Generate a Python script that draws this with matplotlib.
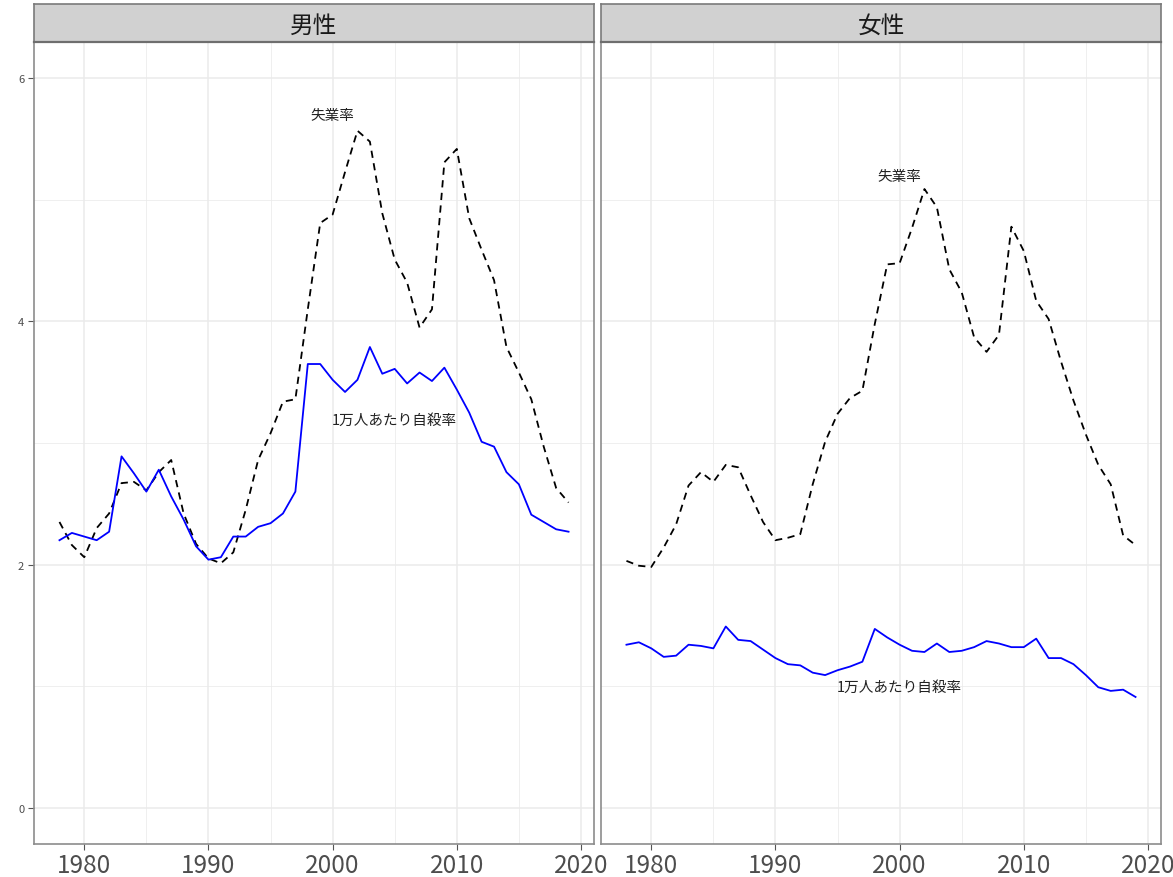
import matplotlib
matplotlib.use('Agg')
import matplotlib.pyplot as plt
from matplotlib.ticker import FixedLocator

plt.rcParams['font.family'] = ['Noto Sans CJK JP', 'DejaVu Sans']

years = list(range(1978, 2020))

male_unemp = [2.35, 2.16, 2.06, 2.30, 2.42, 2.67, 2.68, 2.61, 2.76, 2.86,
              2.42, 2.17, 2.05, 2.01, 2.10, 2.45, 2.86, 3.08, 3.34, 3.36,
              4.10, 4.81, 4.88, 5.23, 5.57, 5.48, 4.89, 4.51, 4.32, 3.95,
              4.10, 5.31, 5.42, 4.85, 4.59, 4.34, 3.79, 3.58, 3.36, 2.97,
              2.63, 2.51]
male_suicide = [2.20, 2.26, 2.23, 2.20, 2.27, 2.89, 2.75, 2.60, 2.78, 2.56,
                2.37, 2.15, 2.04, 2.06, 2.23, 2.23, 2.31, 2.34, 2.42, 2.60,
                3.65, 3.65, 3.52, 3.42, 3.52, 3.79, 3.57, 3.61, 3.49, 3.58,
                3.51, 3.62, 3.44, 3.25, 3.01, 2.97, 2.76, 2.66, 2.41, 2.35,
                2.29, 2.27]
female_unemp = [2.03, 1.99, 1.98, 2.14, 2.33, 2.65, 2.76, 2.68, 2.82, 2.80,
                2.57, 2.35, 2.20, 2.22, 2.25, 2.66, 3.01, 3.24, 3.37, 3.43,
                3.98, 4.47, 4.48, 4.77, 5.09, 4.94, 4.43, 4.24, 3.87, 3.75,
                3.89, 4.78, 4.58, 4.17, 4.02, 3.67, 3.35, 3.07, 2.82, 2.66,
                2.24, 2.16]
female_suicide = [1.34, 1.36, 1.31, 1.24, 1.25, 1.34, 1.33, 1.31, 1.49, 1.38,
                  1.37, 1.30, 1.23, 1.18, 1.17, 1.11, 1.09, 1.13, 1.16, 1.20,
                  1.47, 1.40, 1.34, 1.29, 1.28, 1.35, 1.28, 1.29, 1.32, 1.37,
                  1.35, 1.32, 1.32, 1.39, 1.23, 1.23, 1.18, 1.09, 0.99, 0.96,
                  0.97, 0.91]

panel_titles = ['男性', '女性']
label_unemp = '失業率'
label_suicide = '1万人あたり自殺率'
# label anchor positions (year, value) per panel
unemp_label_pos = [(2000, 5.70), (2000, 5.20)]
suicide_label_pos = [(2005, 3.19), (2000, 0.99)]

x_ticks = [1980, 1990, 2000, 2010, 2020]
y_ticks = [0, 2, 4, 6]

W, H = 1173, 878
fig = plt.figure(figsize=(W / 100, H / 100), dpi=100)
fig.patch.set_facecolor('white')

panel_left = [34, 601]
panel_w = 560
panel_top, panel_bot = 43, 845
strip_top = 5

series = [(male_unemp, male_suicide), (female_unemp, female_suicide)]

xmin, xmax = 1978 - 0.05 * 41, 2019 + 0.05 * 41
ymin, ymax = -0.3, 6.3

border_col = '#8C8C8C'
strip_border = '#7A7A7A'
grid_col = '#EBEBEB'

for i in range(2):
    l = panel_left[i]
    ax = fig.add_axes([l / W, 1 - panel_bot / H, panel_w / W, (panel_bot - panel_top) / H])
    unemp, sui = series[i]
    ax.plot(years, unemp, color='black', lw=1.3, linestyle=(0, (4, 3)))
    ax.plot(years, sui, color='#0000FF', lw=1.3)
    ax.set_xlim(xmin, xmax)
    ax.set_ylim(ymin, ymax)
    ax.xaxis.set_major_locator(FixedLocator(x_ticks))
    ax.xaxis.set_minor_locator(FixedLocator([1975, 1985, 1995, 2005, 2015]))
    ax.yaxis.set_major_locator(FixedLocator(y_ticks))
    ax.yaxis.set_minor_locator(FixedLocator([1, 3, 5]))
    ax.grid(which='major', color=grid_col, lw=1.1, zorder=0)
    ax.grid(which='minor', color=grid_col, lw=0.55, zorder=0)
    ax.set_axisbelow(True)
    for s in ax.spines.values():
        s.set_color(border_col)
        s.set_linewidth(1.2)
    ax.tick_params(axis='x', which='major', length=4, color='#555555',
                   labelsize=17.5, labelcolor='#4D4D4D', pad=2)
    ax.tick_params(which='minor', length=0)
    if i == 0:
        ax.tick_params(axis='y', which='major', length=4, color='#555555',
                       labelsize=8, labelcolor='#4D4D4D', pad=3)
    else:
        ax.tick_params(axis='y', which='major', length=0, labelleft=False)
    ax.set_xticklabels([str(t) for t in x_ticks])
    ax.set_yticklabels([str(t) for t in y_ticks] if i == 0 else [])
    ux, uy = unemp_label_pos[i]
    sx, sy = suicide_label_pos[i]
    ax.text(ux, uy, label_unemp, ha='center', va='center', fontsize=10.5, color='#222222')
    ax.text(sx, sy, label_suicide, ha='center', va='center', fontsize=10.5, color='#222222')

    sax = fig.add_axes([l / W, 1 - panel_top / H, panel_w / W, (panel_top - strip_top) / H])
    sax.set_facecolor('#D1D1D1')
    sax.set_xticks([])
    sax.set_yticks([])
    for s in sax.spines.values():
        s.set_color(strip_border)
        s.set_linewidth(1.2)
    sax.spines['bottom'].set_color('#6E6E6E')
    sax.spines['bottom'].set_linewidth(1.6)
    sax.text(0.5, 0.45, panel_titles[i], transform=sax.transAxes, ha='center',
             va='center', fontsize=17, color='#1A1A1A')

fig.savefig('out.png', dpi=100)
